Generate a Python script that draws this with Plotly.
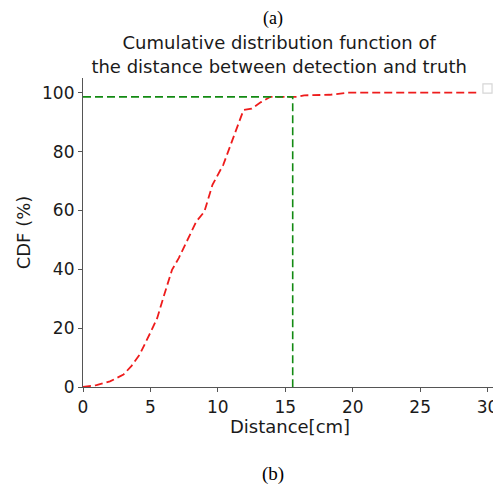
import plotly.graph_objects as go

# CDF of distance between detection and truth
distance = [0, 1.0, 2.0, 3.0, 3.6, 4.2, 5.0, 5.5, 6.0, 6.6, 7.1, 7.8, 8.4, 9.0, 9.6, 10.4, 11.2, 11.9, 12.5, 13.2, 13.9, 15.9, 16.4, 18.3, 19.7, 29.4]
cdf = [0, 0.6, 1.9, 4.2, 7.2, 11.0, 18.5, 23.4, 31.0, 39.8, 43.8, 50.5, 56.2, 59.6, 68.7, 75.5, 85.5, 94.1, 94.6, 96.8, 98.6, 98.6, 99.1, 99.3, 100.0, 100.0]

threshold_x = 15.55
threshold_y = 98.6

font = "DejaVu Sans, sans-serif"

fig = go.Figure()
fig.add_trace(go.Scatter(x=distance, y=cdf, mode="lines",
                         line=dict(color="#ee1c1c", width=1.8, dash="8px,4px"),
                         showlegend=False))
fig.add_trace(go.Scatter(x=[0, threshold_x, threshold_x], y=[threshold_y, threshold_y, 0],
                         mode="lines", line=dict(color="#138a13", width=1.6, dash="8px,4px"),
                         showlegend=False))

# the page body has an 8px margin, so the figure is 8px smaller than the window
fig.update_layout(
    width=493, height=478,
    margin=dict(l=75, r=4, t=70, b=99),
    plot_bgcolor="white", paper_bgcolor="white",
    font=dict(family=font, size=17, color="#1a1a1a"),
    title=dict(text="Cumulative distribution function of<br>the distance between detection and truth",
               x=0.550, xanchor="center", y=0.914, yanchor="middle",
               font=dict(family=font, size=18, color="#1a1a1a")),
    xaxis=dict(range=[0, 30.7], tickvals=[0, 5, 10, 15, 20, 25, 30],
               showgrid=False, zeroline=False, showline=True, linecolor="#555",
               linewidth=1.2, ticks="outside", ticklen=4, tickcolor="#555",
               title=dict(text="Distance[cm]", standoff=3, font=dict(size=18))),
    yaxis=dict(range=[0, 105], tickvals=[0, 20, 40, 60, 80, 100],
               showgrid=False, zeroline=False, showline=True, linecolor="#555",
               linewidth=1.2, ticks="outside", ticklen=4, tickcolor="#555",
               title=dict(text="CDF (%)", standoff=6, font=dict(size=18))),
    shapes=[dict(type="rect", xref="paper", yref="paper",
                 x0=0.966, x1=0.988, y0=0.951, y1=0.981,
                 line=dict(color="#d6d6d6", width=1.2), fillcolor="white")],
    annotations=[
        dict(text="(a)", xref="paper", yref="paper", x=0.459, y=1.193,
             xanchor="center", yanchor="middle", showarrow=False, borderpad=0,
             font=dict(family="Liberation Serif, serif", size=18, color="black")),
        dict(text="(b)", xref="paper", yref="paper", x=0.459, y=-0.283,
             xanchor="center", yanchor="middle", showarrow=False,
             font=dict(family="Liberation Serif, serif", size=19, color="black")),
    ],
)

fig.write_html("out.html")
